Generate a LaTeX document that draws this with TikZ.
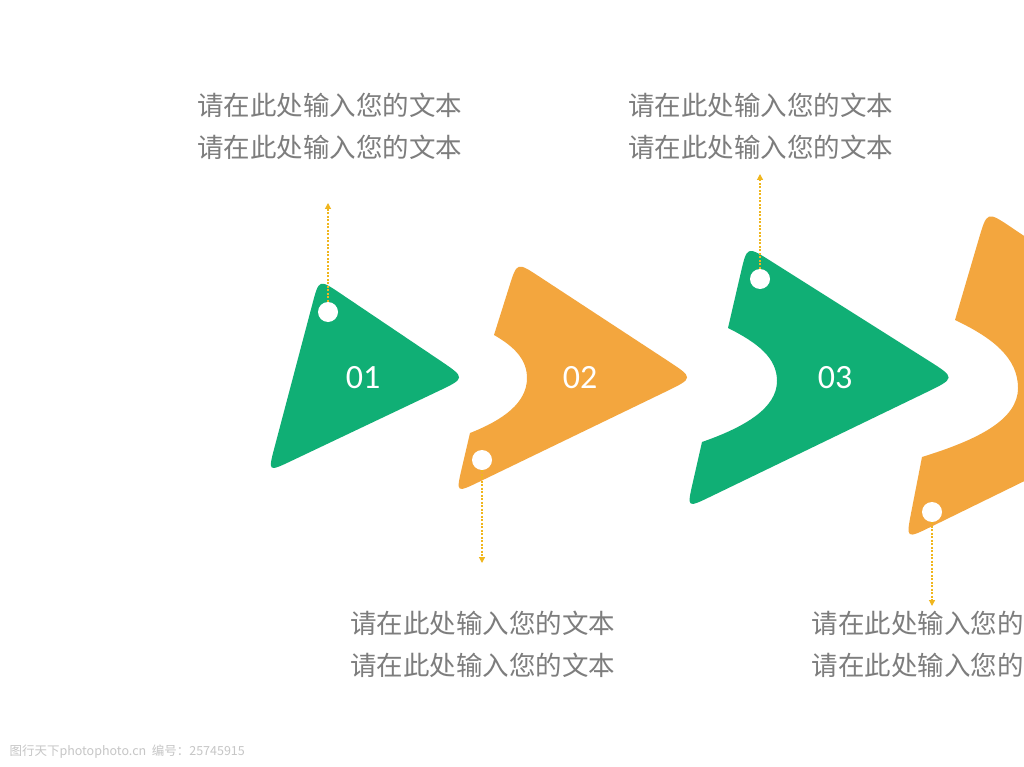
\documentclass[tikz,border=0pt]{standalone}
\usepackage{fontspec}
\setmainfont{Carlito}
\newfontfamily\cjk{Noto Sans CJK SC}
\usetikzlibrary{arrows.meta,calc}
\definecolor{cgreen}{RGB}{16,175,117}
\definecolor{corange}{RGB}{243,166,62}
\definecolor{carrow}{RGB}{240,182,30}
\definecolor{ctext}{RGB}{125,125,125}
\begin{document}
\begin{tikzpicture}[x=1pt,y=-1pt,
  gshape/.style={fill=cgreen},
  oshape/.style={fill=corange},
  hole/.style={circle, fill=white, inner sep=0pt, minimum size=20pt},
  num/.style={text=white, font=\fontsize{34}{34}\selectfont},
  conn/.style={draw=carrow, line width=1.2pt, dash pattern=on 2pt off 1.5pt, -{Triangle[length=6pt,width=6pt]}},
  txt/.style={text=ctext, align=center, font=\cjk\fontsize{26.5}{42}\selectfont},
  txtl/.style={text=ctext, align=left, anchor=west, font=\cjk\fontsize{26.5}{42}\selectfont},
  wmark/.style={text=gray!45, anchor=west, font=\cjk\fontsize{12.5}{13}\selectfont}]
\useasboundingbox (0,0) rectangle (1024,767);
\clip (0,0) rectangle (1024,767);
\fill[white] (0,0) rectangle (1024,767);
% shape 1
\coordinate (P1) at (319,279);
\coordinate (T1) at (466,378);
\coordinate (B1) at (268,472);
\fill[gshape] ($(P1)!26pt!(B1)$) .. controls (P1) .. ($(P1)!26pt!(T1)$)
  -- ($(T1)!32pt!(P1)$) .. controls (T1) .. ($(T1)!32pt!(B1)$)
  -- ($(B1)!26pt!(T1)$) .. controls (B1) .. ($(B1)!26pt!(P1)$) -- cycle;
% shape 2
\coordinate (P2) at (517,262);
\coordinate (T2) at (694,378);
\coordinate (B2) at (456,493);
\coordinate (U2) at (494,335);
\coordinate (L2) at (470,433);
\fill[oshape] (L2) -- ($(B2)!26pt!(L2)$) .. controls (B2) .. ($(B2)!26pt!(T2)$)
  -- ($(T2)!32pt!(B2)$) .. controls (T2) .. ($(T2)!32pt!(P2)$)
  -- ($(P2)!26pt!(T2)$) .. controls (P2) .. ($(P2)!26pt!(U2)$)
  -- (U2) .. controls (515,347) and (527,360) .. (527,378)
  .. controls (527,403) and (503,420) .. (L2) -- cycle;
% shape 3
\coordinate (P3) at (747,246);
\coordinate (T3) at (956,378);
\coordinate (B3) at (687,508);
\coordinate (U3) at (728,328);
\coordinate (L3) at (702,442);
\fill[gshape] (L3) -- ($(B3)!26pt!(L3)$) .. controls (B3) .. ($(B3)!26pt!(T3)$)
  -- ($(T3)!34pt!(B3)$) .. controls (T3) .. ($(T3)!34pt!(P3)$)
  -- ($(P3)!28pt!(T3)$) .. controls (P3) .. ($(P3)!28pt!(U3)$)
  -- (U3) .. controls (758,343) and (777,358) .. (777,381)
  .. controls (777,408) and (745,427) .. (L3) -- cycle;
% shape 4
\coordinate (P4) at (987,211);
\coordinate (T4) at (1235,378);
\coordinate (B4) at (906,539);
\coordinate (U4) at (955,320);
\coordinate (L4) at (922,457);
\fill[oshape] (L4) -- ($(B4)!28pt!(L4)$) .. controls (B4) .. ($(B4)!28pt!(T4)$)
  -- ($(T4)!36pt!(B4)$) .. controls (T4) .. ($(T4)!36pt!(P4)$)
  -- ($(P4)!30pt!(T4)$) .. controls (P4) .. ($(P4)!30pt!(U4)$)
  -- (U4) .. controls (993,338) and (1018,358) .. (1018,388)
  .. controls (1018,420) and (977,440) .. (L4) -- cycle;
% numbers
\node[num] (n1) at (363,378) {01};
\node[num] (n2) at (580,378) {02};
\node[num] (n3) at (835,378) {03};
% holes
\node[hole] (h1) at (328,312) {};
\node[hole] (h2) at (482,460) {};
\node[hole] (h3) at (760,279) {};
\node[hole] (h4) at (932,512) {};
\coordinate (a1) at (328,203);
\coordinate (a2) at (482,563);
\coordinate (a3) at (760,174);
\coordinate (a4) at (932,606);
\draw[conn] (h1.north) -- (a1);
\draw[conn] (h2.south) -- (a2);
\draw[conn] (h3.north) -- (a3);
\draw[conn] (h4.south) -- (a4);
% texts
\node[txt] (t1) at (329.5,126) {请在此处输入您的文本\\请在此处输入您的文本};
\node[txt] (t3) at (760.5,126) {请在此处输入您的文本\\请在此处输入您的文本};
\node[txt] (t2) at (482.5,644) {请在此处输入您的文本\\请在此处输入您的文本};
\node[txtl] (t4) at (808,644) {请在此处输入您的文本\\请在此处输入您的文本};
\node[wmark] (wm) at (6,752) {图行天下photophoto.cn\ \ 编号：25745915};
\end{tikzpicture}
\end{document}
